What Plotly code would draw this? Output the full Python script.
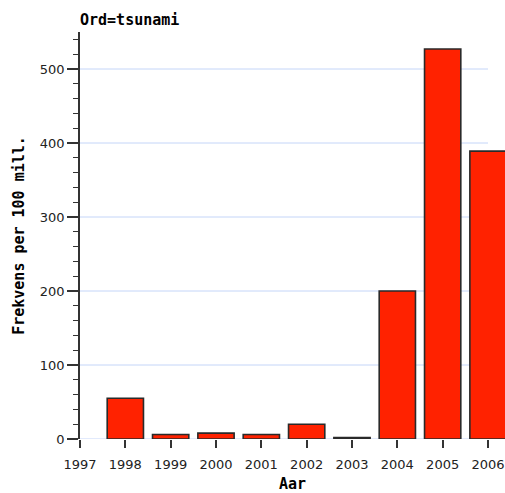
import plotly.graph_objects as go

years = [1998, 1999, 2000, 2001, 2002, 2003, 2004, 2005, 2006]
freq = [55, 6, 8, 6, 20, 2, 200, 527, 389]
x_ticks = list(range(1997, 2007))
y_ticks = [0, 100, 200, 300, 400, 500]
grid_vals = [100, 200, 300, 400, 500]

W, H = 505, 493

fig = go.Figure()
fig.add_trace(go.Bar(
    x=years, y=freq, width=0.8,
    marker=dict(color="#ff2200", line=dict(color="#2a2a2a", width=1.6)),
))

for v in [0] + grid_vals:
    fig.add_shape(type="line", xref="x", yref="y", x0=x_ticks[0], x1=x_ticks[-1], y0=v, y1=v,
                  line=dict(color="#c4d5f8", width=1), layer="below")

mono = "DejaVu Sans Mono"
fig.update_layout(
    width=W, height=H,
    margin=dict(l=80, r=0, t=32, b=54),
    plot_bgcolor="white", paper_bgcolor="white",
    showlegend=False,
    title=dict(text="<b>Ord=tsunami</b>", x=80/W, xanchor="left", xref="container",
               y=1 - 20/H, yanchor="middle", yref="container",
               font=dict(family=mono, size=15, color="black")),
    xaxis=dict(
        range=[1997, 2006.375], tickvals=x_ticks, ticktext=[str(v) for v in x_ticks],
        ticks="outside", ticklen=8, tickcolor="#333", tickwidth=1.5,
        ticklabelstandoff=5,
        showgrid=False, showline=False, zeroline=False, automargin=False,
        tickfont=dict(family="DejaVu Sans", size=13, color="#222"),
        title=dict(text="<b>Aar</b>", font=dict(family=mono, size=15, color="black"), standoff=13),
    ),
    yaxis=dict(
        range=[0, 550], tickvals=y_ticks,
        ticks="outside", ticklen=11, tickcolor="#333", tickwidth=1.5,
        showline=True, linecolor="#333", linewidth=1.5,
        showgrid=False, zeroline=False, automargin=False,
        minor=dict(dtick=20, ticks="outside", ticklen=5, tickcolor="#333", tickwidth=1, showgrid=False),
        tickfont=dict(family="DejaVu Sans", size=13, color="#222"),
        title=dict(text="<b>Frekvens per 100 mill.</b>", font=dict(family=mono, size=15, color="black"), standoff=12),
    ),
)

fig.write_html("out.html", config={"displayModeBar": False},
               post_script="document.body.style.margin='0';document.body.style.overflow='hidden';")
